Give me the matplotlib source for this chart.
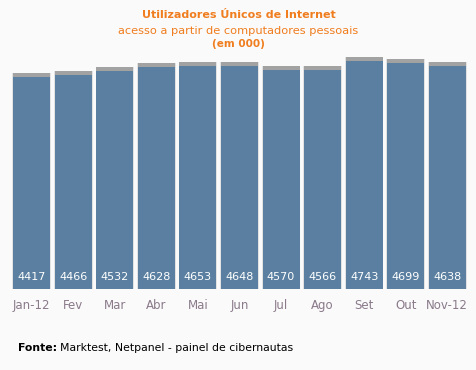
import matplotlib
matplotlib.use("Agg")
from matplotlib import pyplot as plt
import numpy as np

months = ["Jan-12", "Fev", "Mar", "Abr", "Mai", "Jun", "Jul", "Ago", "Set", "Out", "Nov-12"]
users = [4417, 4466, 4532, 4628, 4653, 4648, 4570, 4566, 4743, 4699, 4638]

bar_color = "#5a7fa0"
orange = "#f07d1e"

fig = plt.figure(figsize=(4.77, 3.70), dpi=100)
fig.patch.set_facecolor("#fafafa")
ax = fig.add_axes([11 / 477, 81 / 370, 457 / 477, 240 / 370])
ax.set_facecolor("#fafafa")

x = np.arange(len(months))
# soft halo + grey cap behind each bar
ax.bar(x, np.array(users) + 85, width=0.93, color="#e2e2e2", zorder=1)
ax.bar(x, np.array(users) + 85, width=0.89, color="#a2a2a2", zorder=2)
ax.bar(x, users, width=0.89, color=bar_color, zorder=3)

for xi, v in zip(x, users):
    ax.text(xi, 250, str(v), ha="center", va="center", color="white",
            fontsize=8, zorder=4)

ax.set_xlim(-0.5, len(months) - 0.5)
ax.set_ylim(0, 5000)
ax.set_xticks(x)
ax.set_xticklabels(months, color="#8a7a8a", fontsize=8.5)
ax.tick_params(axis="x", length=0, pad=7)
ax.set_yticks([])
for s in ax.spines.values():
    s.set_visible(False)

fig.text(0.5, 1 - 15 / 370, "Utilizadores Únicos de Internet", ha="center", va="center",
         color=orange, fontsize=8, fontweight="bold")
fig.text(0.5, 1 - 31 / 370, "acesso a partir de computadores pessoais", ha="center",
         va="center", color=orange, fontsize=8.2)
fig.text(0.5, 1 - 44 / 370, "(em 000)", ha="center", va="center",
         color=orange, fontsize=7.5, fontweight="bold")

fig.text(18 / 477, 1 - 348 / 370, "Fonte:", ha="left", va="center",
         color="black", fontsize=7.8, fontweight="bold")
fig.text(60 / 477, 1 - 348 / 370, "Marktest, Netpanel - painel de cibernautas",
         ha="left", va="center", color="black", fontsize=7.8)

fig.savefig("out.png", dpi=100, facecolor=fig.get_facecolor())
